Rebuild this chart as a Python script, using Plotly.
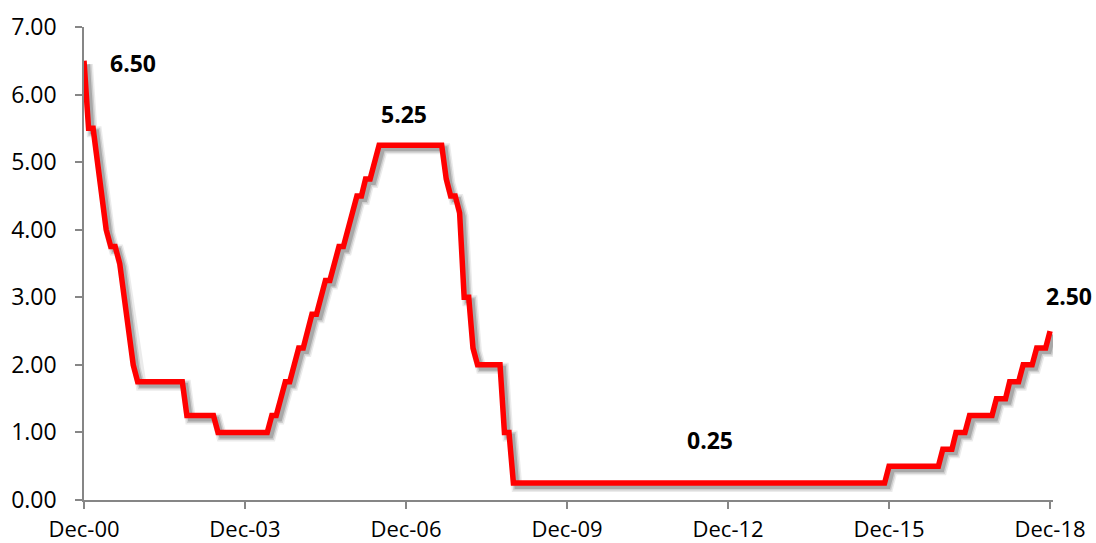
import pandas as pd
import plotly.graph_objects as go

# Federal funds target rate (upper bound, %), month-end values
rate_2000 = [6.50]  # December 2000
rate_2001 = [5.50, 5.50, 5.00, 4.50, 4.00, 3.75, 3.75, 3.50, 3.00, 2.50, 2.00, 1.75]
rate_2002 = [1.75, 1.75, 1.75, 1.75, 1.75, 1.75, 1.75, 1.75, 1.75, 1.75, 1.25, 1.25]
rate_2003 = [1.25, 1.25, 1.25, 1.25, 1.25, 1.00, 1.00, 1.00, 1.00, 1.00, 1.00, 1.00]
rate_2004 = [1.00, 1.00, 1.00, 1.00, 1.00, 1.25, 1.25, 1.50, 1.75, 1.75, 2.00, 2.25]
rate_2005 = [2.25, 2.50, 2.75, 2.75, 3.00, 3.25, 3.25, 3.50, 3.75, 3.75, 4.00, 4.25]
rate_2006 = [4.50, 4.50, 4.75, 4.75, 5.00, 5.25, 5.25, 5.25, 5.25, 5.25, 5.25, 5.25]
rate_2007 = [5.25, 5.25, 5.25, 5.25, 5.25, 5.25, 5.25, 5.25, 4.75, 4.50, 4.50, 4.25]
rate_2008 = [3.00, 3.00, 2.25, 2.00, 2.00, 2.00, 2.00, 2.00, 2.00, 1.00, 1.00, 0.25]
rate_2009 = [0.25] * 12
rate_2010 = [0.25] * 12
rate_2011 = [0.25] * 12
rate_2012 = [0.25] * 12
rate_2013 = [0.25] * 12
rate_2014 = [0.25] * 12
rate_2015 = [0.25, 0.25, 0.25, 0.25, 0.25, 0.25, 0.25, 0.25, 0.25, 0.25, 0.25, 0.50]
rate_2016 = [0.50, 0.50, 0.50, 0.50, 0.50, 0.50, 0.50, 0.50, 0.50, 0.50, 0.50, 0.75]
rate_2017 = [0.75, 0.75, 1.00, 1.00, 1.00, 1.25, 1.25, 1.25, 1.25, 1.25, 1.25, 1.50]
rate_2018 = [1.50, 1.50, 1.75, 1.75, 1.75, 2.00, 2.00, 2.00, 2.25, 2.25, 2.25, 2.50]

rates = (rate_2000 + rate_2001 + rate_2002 + rate_2003 + rate_2004 + rate_2005
         + rate_2006 + rate_2007 + rate_2008 + rate_2009 + rate_2010 + rate_2011
         + rate_2012 + rate_2013 + rate_2014 + rate_2015 + rate_2016 + rate_2017
         + rate_2018)
months = pd.date_range("2000-12-01", periods=len(rates), freq="MS")

# Points carrying a value label: (month, label offset in px)
labelled_months = ["2000-12-01", "2006-12-01", "2012-08-01", "2018-12-01"]
label_offsets = [(49, -2), (-2, 31), (0, 43), (19, 35)]

# ---- layout geometry ----
W, H = 1096, 543
M_L, M_R, M_T, M_B = 84, 43, 27, 43
X_START, X_END = pd.Timestamp("2000-12-01"), pd.Timestamp("2018-12-21")
Y_MIN, Y_MAX = 0.0, 7.0
plot_w = W - M_L - M_R
plot_h = H - M_T - M_B
days_per_px = (X_END - X_START).days / plot_w
units_per_px = (Y_MAX - Y_MIN) / plot_h

AXIS_GREY = "#868686"
FONT = "Open Sans"

fig = go.Figure()

# base subplot: carries the visible axes
fig.add_trace(go.Scatter(
    x=months, y=rates, mode="lines", line=dict(width=0, color="rgba(0,0,0,0)"),
    hoverinfo="skip", showlegend=False,
))

# soft drop shadow: the same series on a hidden axis pair nudged down-right
sh = 3.5
shadow_x = [X_START - pd.Timedelta(days=sh * days_per_px),
            X_END - pd.Timedelta(days=sh * days_per_px)]
shadow_y = [Y_MIN + sh * units_per_px, Y_MAX + sh * units_per_px]
for width, alpha in [(11, 0.08), (8, 0.12), (5, 0.18)]:
    fig.add_trace(go.Scatter(
        x=months, y=rates, mode="lines", xaxis="x2", yaxis="y2",
        line=dict(color=f"rgba(0,0,0,{alpha})", width=width),
        hoverinfo="skip", showlegend=False,
    ))

# the rate line itself
fig.add_trace(go.Scatter(
    x=months, y=rates, mode="lines", xaxis="x3", yaxis="y3",
    line=dict(color="#FF0000", width=5.5),
    showlegend=False, name="Fed funds rate",
))

rate_by_month = dict(zip(months, rates))
for m, (dx, dy) in zip(labelled_months, label_offsets):
    ts = pd.Timestamp(m)
    v = rate_by_month[ts]
    fig.add_annotation(
        x=ts, y=v, xref="x", yref="y", text=f"{v:.2f}",
        showarrow=False, xshift=dx, yshift=dy,
        font=dict(family=FONT, size=23, color="#000000", weight="bold"),
    )

hidden = dict(visible=False, showgrid=False, zeroline=False, fixedrange=True)

fig.update_layout(
    width=W, height=H,
    margin=dict(l=M_L, r=M_R, t=M_T, b=M_B, pad=0, autoexpand=False),
    paper_bgcolor="white", plot_bgcolor="white",
    font=dict(family=FONT, size=22, color="#000000"),
    xaxis=dict(
        type="date", range=[X_START, X_END], automargin=False,
        tick0="2000-12-01", dtick="M36", tickformat="%b-%y",
        showgrid=False, zeroline=False,
        showline=True, linecolor=AXIS_GREY, linewidth=1.5,
        ticks="outside", ticklen=7, tickwidth=1.5, tickcolor=AXIS_GREY,
        ticklabelstandoff=2, tickfont=dict(size=22),
    ),
    yaxis=dict(
        range=[Y_MIN, Y_MAX], dtick=1, tickformat=".2f", automargin=False,
        showgrid=False, zeroline=False,
        showline=True, linecolor=AXIS_GREY, linewidth=1.5,
        ticks="outside", ticklen=7, tickwidth=1.5, tickcolor=AXIS_GREY,
        ticklabelstandoff=14, tickfont=dict(size=23),
    ),
    xaxis2=dict(overlaying="x", type="date", range=shadow_x, anchor="y2", **hidden),
    yaxis2=dict(overlaying="y", range=shadow_y, anchor="x2", **hidden),
    xaxis3=dict(overlaying="x", type="date", range=[X_START, X_END], anchor="y3", **hidden),
    yaxis3=dict(overlaying="y", range=[Y_MIN, Y_MAX], anchor="x3", **hidden),
)

fig.write_html("out.html")
